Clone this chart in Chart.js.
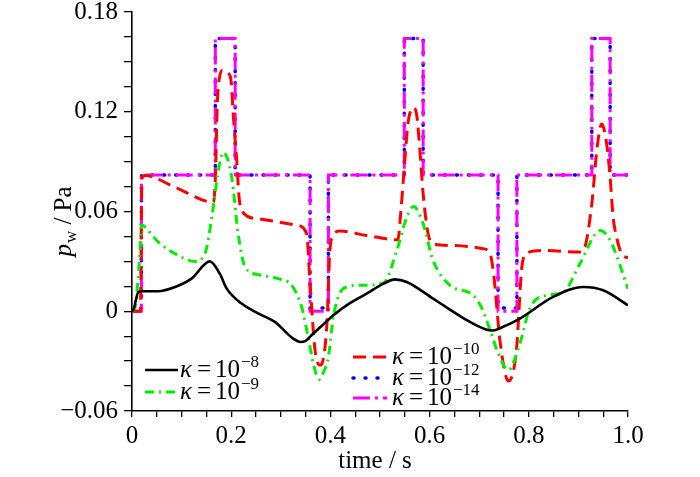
<!DOCTYPE html>
<html>
<head>
<meta charset="utf-8">
<script src="https://cdn.jsdelivr.net/npm/chart.js@4/dist/chart.umd.min.js"></script>
<style>
html,body{margin:0;padding:0;background:#fff;}
#wrap{width:700px;height:477px;}
</style>
</head>
<body>
<div id="wrap"><canvas id="graph"></canvas></div>
<script>

// kappa = 1e-8
const tK8=[0,0.003,0.013,0.02,0.053,0.087,0.12,0.157,0.177,0.191,0.221,0.255,0.288,0.325,0.34,0.35,0.365,0.389,0.406,0.44,0.473,0.507,0.53,0.554,0.607,0.641,0.675,0.712,0.728,0.745,0.782,0.849,0.91,0.95,1.0];
const pK8=[0,0.001,0.0116,0.012,0.012,0.0146,0.0196,0.030,0.0226,0.0136,0.0046,-0.0014,-0.0064,-0.0165,-0.0185,-0.0178,-0.0135,-0.007,-0.0024,0.005,0.0106,0.0166,0.0192,0.0176,0.0076,0.001,-0.0054,-0.0108,-0.0116,-0.0098,-0.0044,0.0086,0.0146,0.0126,0.0036];

// kappa = 1e-9
const tK9=[0,0.006,0.014,0.02,0.025,0.053,0.087,0.127,0.147,0.161,0.174,0.184,0.201,0.214,0.228,0.255,0.295,0.322,0.342,0.355,0.366,0.377,0.387,0.396,0.406,0.426,0.46,0.507,0.534,0.554,0.568,0.587,0.607,0.641,0.688,0.705,0.722,0.738,0.759,0.782,0.802,0.836,0.87,0.903,0.944,0.964,1.0];
const pK9=[0,0.002,0.0266,0.052,0.051,0.0416,0.0346,0.030,0.0346,0.0566,0.0846,0.0956,0.0806,0.0466,0.0266,0.022,0.0196,0.0156,0.0026,-0.0154,-0.032,-0.041,-0.036,-0.0274,-0.0034,0.0136,0.0156,0.017,0.0366,0.0566,0.063,0.0526,0.0306,0.0156,0.0096,0.002,-0.0114,-0.025,-0.0354,-0.0194,0.0016,0.0096,0.0116,0.0286,0.0486,0.0426,0.0136];

// kappa = 1e-10
const tK10=[0,0.017,0.02,0.026,0.087,0.164,0.168,0.172,0.176,0.183,0.195,0.2,0.204,0.211,0.216,0.222,0.255,0.335,0.352,0.359,0.369,0.38,0.393,0.399,0.408,0.419,0.473,0.536,0.542,0.55,0.556,0.563,0.567,0.574,0.58,0.587,0.597,0.607,0.641,0.708,0.722,0.73,0.742,0.759,0.775,0.786,0.796,0.829,0.903,0.913,0.927,0.937,0.944,0.947,0.957,0.964,0.97,0.977,0.987,1.0];
const pK10=[0,0,0.08,0.0816,0.0746,0.0656,0.08,0.125,0.14,0.145,0.143,0.138,0.119,0.091,0.068,0.06,0.0556,0.0516,0.0466,0.0166,-0.0234,-0.0324,-0.0074,0.0366,0.047,0.0482,0.0456,0.043,0.06,0.0906,0.112,0.1216,0.1226,0.118,0.0986,0.0706,0.0466,0.0406,0.0396,0.0376,0.0346,0.02,-0.018,-0.042,-0.0234,0.0266,0.035,0.0366,0.0356,0.0386,0.0646,0.0966,0.1106,0.1126,0.1006,0.0806,0.0566,0.0446,0.0346,0.032];

// kappa = 1e-12 and 1e-14 (square pulses)
const tSq=[0,0.019,0.019,0.168,0.168,0.208,0.208,0.359,0.359,0.396,0.396,0.549,0.549,0.587,0.587,0.738,0.738,0.776,0.776,0.927,0.927,0.964,0.964,1.0];
const pK12=[0,0,0.082,0.082,0.164,0.164,0.082,0.082,0.002,0.002,0.082,0.082,0.164,0.164,0.082,0.082,0.002,0.002,0.082,0.082,0.164,0.164,0.082,0.082];
const pK14=[0,0,0.082,0.082,0.164,0.164,0.082,0.082,0,0,0.082,0.082,0.164,0.164,0.082,0.082,0,0,0.082,0.082,0.164,0.164,0.082,0.082];

const kExp=["\u22128","\u22129","\u221210","\u221212","\u221214"];

function pts(t,p){
return t.map((x,i)=>({x:x,y:p[i]}));
}

const serif="'Liberation Serif', 'Times New Roman', serif";

function kappaLabel(ctx,x,y,exp){
ctx.fillStyle="#000";
ctx.textAlign="left";
ctx.textBaseline="alphabetic";
ctx.font="italic 25px "+serif;
ctx.fillText("\u03BA",x,y);
ctx.font="25px "+serif;
ctx.fillText("=",x+17,y);
ctx.fillText("10",x+35,y);
let w=ctx.measureText("10").width;
ctx.font="17px "+serif;
ctx.fillText(exp,x+36+w,y-10);
}

const deco={
id:"deco",
afterDraw(c){
let ctx=c.ctx;
let rows=[[0,145,178,370,180],[1,145,178,392,180],[2,353,387,357,392],[3,353,387,378,392],[4,353,387,398,392]];
rows.forEach(r=>{
let ds=c.data.datasets[r[0]];
ctx.save();
ctx.strokeStyle=ds.borderColor;
ctx.lineWidth=ds.borderWidth;
ctx.setLineDash(ds.borderDash||[]);
ctx.lineCap=ds.borderCapStyle||"butt";
ctx.beginPath();
ctx.moveTo(r[1],r[3]);
ctx.lineTo(r[2],r[3]);
ctx.stroke();
ctx.restore();
ctx.save();
kappaLabel(ctx,r[4],r[3]+7,kExp[r[0]]);
ctx.restore();
});

// axis titles
ctx.save();
ctx.fillStyle="#000";
ctx.textBaseline="alphabetic";
ctx.font="25px "+serif;
ctx.textAlign="center";
ctx.fillText("time / s",375,468);
ctx.restore();

ctx.save();
ctx.fillStyle="#000";
ctx.textBaseline="alphabetic";
ctx.textAlign="left";
ctx.translate(71,222);
ctx.rotate(-Math.PI/2);
ctx.font="italic 25px "+serif;
let wp=ctx.measureText("p").width;
ctx.font="17px "+serif;
let ww=ctx.measureText("w").width;
ctx.font="25px "+serif;
let wr=ctx.measureText(" / Pa").width;
let s=-(wp+ww+wr)/2;
ctx.font="italic 25px "+serif;
ctx.fillText("p",s,0);
ctx.font="17px "+serif;
ctx.fillText("w",s+wp+1,5);
ctx.font="25px "+serif;
ctx.fillText(" / Pa",s+wp+ww+1,0);
ctx.restore();
}
};

function near(v,step){
let q=v/step;
return Math.abs(q-Math.round(q))<1e-6;
}

new Chart(document.getElementById("graph"),{
type:"line",
data:{
datasets:[
{data:pts(tK8,pK8),borderColor:"#000000",borderWidth:2.6,pointRadius:0,cubicInterpolationMode:"monotone",order:0},
{data:pts(tK9,pK9),borderColor:"#00f000",borderWidth:3,borderDash:[9,5,2,5],pointRadius:0,cubicInterpolationMode:"monotone",order:1},
{data:pts(tK10,pK10),borderColor:"#ff0000",borderWidth:3,borderDash:[13,7],pointRadius:0,cubicInterpolationMode:"monotone",order:2},
{data:pts(tSq,pK12),borderColor:"#0000ff",borderWidth:3.5,borderDash:[1,11],borderCapStyle:"round",pointRadius:0,order:4},
{data:pts(tSq,pK14),borderColor:"#ff00ff",borderWidth:3,borderDash:[17,5,3,5],pointRadius:0,order:3}
]
},
options:{
responsive:true,
maintainAspectRatio:false,
animation:false,
layout:{padding:{top:12,right:72,left:0,bottom:0}},
plugins:{legend:{display:false},tooltip:{enabled:false}},
scales:{
x:{
type:"linear",
min:0,max:1,
grid:{drawOnChartArea:false,drawTicks:true,tickLength:6,color:"#000",lineWidth:1.3},
border:{color:"#000",width:1.6},
ticks:{stepSize:0.05,autoSkip:false,maxRotation:0,padding:4,color:"#000",font:{family:serif,size:25},
callback:v=>near(v,0.2)?(Math.abs(v)<1e-9?"0":v.toFixed(1)):""},
afterFit:s=>{s.height=66;s.paddingLeft=0;s.paddingRight=0;}
},
y:{
type:"linear",
min:-0.06,max:0.18,
grid:{drawOnChartArea:false,drawTicks:true,tickLength:8,color:"#000",lineWidth:1.3},
border:{color:"#000",width:1.6},
ticks:{stepSize:0.015,autoSkip:false,padding:6,color:"#000",font:{family:serif,size:25},
callback:v=>near(v,0.06)?(Math.abs(v)<1e-9?"0":(v<0?"\u2212"+Math.abs(v).toFixed(2):v.toFixed(2))):""},
afterFit:s=>{s.width=132;s.paddingTop=0;s.paddingBottom=0;}
}
}
},
plugins:[deco]
});

</script>
</body>
</html>
